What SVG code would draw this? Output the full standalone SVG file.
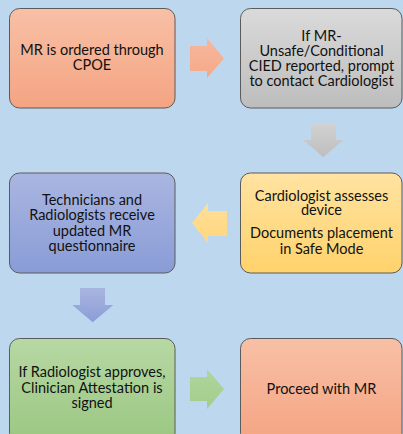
<svg xmlns="http://www.w3.org/2000/svg" width="403" height="434" viewBox="0 0 403 434">
<defs>
<linearGradient id="gOrange" x1="0" y1="0" x2="0" y2="1"><stop offset="0" stop-color="#F8C0A6"/><stop offset="1" stop-color="#F4A482"/></linearGradient>
<linearGradient id="gGray" x1="0" y1="0" x2="0" y2="1"><stop offset="0" stop-color="#DADADA"/><stop offset="1" stop-color="#BDBDBD"/></linearGradient>
<linearGradient id="gBlue" x1="0" y1="0" x2="0" y2="1"><stop offset="0" stop-color="#AAB6E1"/><stop offset="1" stop-color="#899CD6"/></linearGradient>
<linearGradient id="gYellow" x1="0" y1="0" x2="0" y2="1"><stop offset="0" stop-color="#FFE3A2"/><stop offset="1" stop-color="#FFD36C"/></linearGradient>
<linearGradient id="gGreen" x1="0" y1="0" x2="0" y2="1"><stop offset="0" stop-color="#B7D8A4"/><stop offset="1" stop-color="#9AC781"/></linearGradient>
<linearGradient id="aOrange" x1="0" y1="0" x2="0" y2="1"><stop offset="0" stop-color="#F7B79C"/><stop offset="1" stop-color="#F5A989"/></linearGradient>
<linearGradient id="aGray" x1="0" y1="0" x2="0" y2="1"><stop offset="0" stop-color="#D2D2D2"/><stop offset="1" stop-color="#BEBEBE"/></linearGradient>
<linearGradient id="aYellow" x1="0" y1="0" x2="0" y2="1"><stop offset="0" stop-color="#FFDE98"/><stop offset="1" stop-color="#FFD77F"/></linearGradient>
<linearGradient id="aBlue" x1="0" y1="0" x2="0" y2="1"><stop offset="0" stop-color="#A9B5E0"/><stop offset="1" stop-color="#8C9DD6"/></linearGradient>
<linearGradient id="aGreen" x1="0" y1="0" x2="0" y2="1"><stop offset="0" stop-color="#B0D59C"/><stop offset="1" stop-color="#A2CD8B"/></linearGradient>
</defs>
<style>
.box{stroke:#5B5B5B;stroke-width:1}
text{font-family:Lato,"Open Sans","Liberation Sans",sans-serif;font-size:14.5px;fill:#111111;text-anchor:middle}
</style>
<rect x="0" y="0" width="403" height="434" fill="#BDD7EE"/>
<g id="connectors">
<path d="M190 46H207V38L224 58.5L207 78V71H190Z" fill="url(#aOrange)"/>
<path d="M311 123H336V140H343.3L323.3 157.3L303.3 140H311Z" fill="url(#aGray)"/>
<path d="M227 211H208V203L192 223L208 243V236H227Z" fill="url(#aYellow)"/>
<path d="M80 288H105V305H113.3L92.7 322.3L72.3 305H80Z" fill="url(#aBlue)"/>
<path d="M190 377H207V369L224 389L207 409V401H190Z" fill="url(#aGreen)"/>
</g>
<g id="node1">
<rect class="box" x="9.5" y="8.5" width="165.5" height="99.5" rx="10" fill="url(#gOrange)"/>
<text x="92" y="55">MR is ordered through</text>
<text x="92" y="70">CPOE</text>
</g>
<g id="node2">
<rect class="box" x="240.5" y="8.5" width="161.5" height="99.5" rx="10" fill="url(#gGray)"/>
<text x="321.5" y="41">If MR-</text>
<text x="321.5" y="56">Unsafe/Conditional</text>
<text x="321.5" y="71">CIED reported, prompt</text>
<text x="321.5" y="85.5">to contact Cardiologist</text>
</g>
<g id="node3">
<rect class="box" x="240.5" y="173" width="161.5" height="100" rx="10" fill="url(#gYellow)"/>
<text x="321.5" y="200.5">Cardiologist assesses</text>
<text x="321.5" y="215.3">device</text>
<text x="321.5" y="238">Documents placement</text>
<text x="321.5" y="254">in Safe Mode</text>
</g>
<g id="node4">
<rect class="box" x="9.5" y="173" width="165.5" height="100" rx="10" fill="url(#gBlue)"/>
<text x="92" y="205">Technicians and</text>
<text x="92" y="220">Radiologists receive</text>
<text x="92" y="235.5">updated MR</text>
<text x="92" y="250.5">questionnaire</text>
</g>
<g id="node5">
<rect class="box" x="9.5" y="338.5" width="165.5" height="105" rx="10" fill="url(#gGreen)"/>
<text x="92" y="377">If Radiologist approves,</text>
<text x="92" y="392.5">Clinician Attestation is</text>
<text x="92" y="407.5">signed</text>
</g>
<g id="node6">
<rect class="box" x="240.5" y="338.5" width="161.5" height="105" rx="10" fill="url(#gOrange)"/>
<text x="321.5" y="394">Proceed with MR</text>
</g>
</svg>
